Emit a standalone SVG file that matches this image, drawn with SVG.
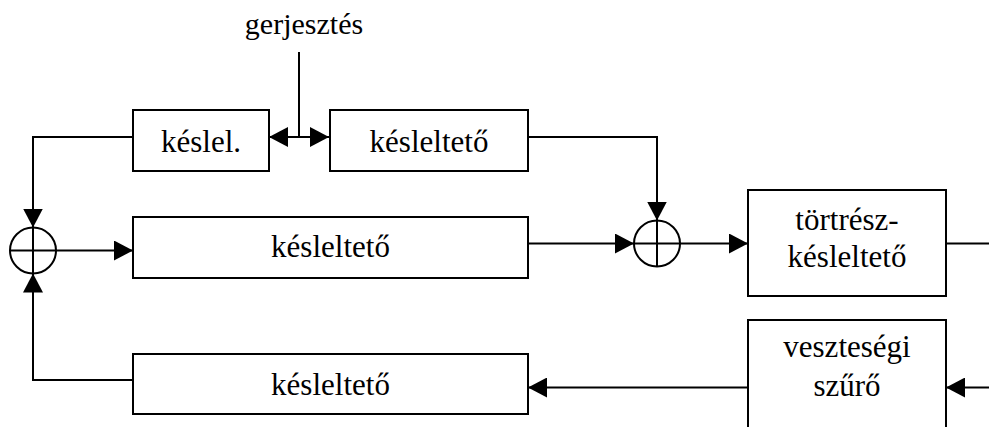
<svg xmlns="http://www.w3.org/2000/svg" width="989" height="427" viewBox="0 0 989 427">
<style>
.box{fill:#fff;stroke:#000;stroke-width:2}
.ln{fill:none;stroke:#000;stroke-width:2}
</style>
<defs>
<marker id="ah" markerUnits="userSpaceOnUse" markerWidth="20" markerHeight="20" refX="19" refY="10" orient="auto">
<path d="M0,0 L19,10 L0,20 z" fill="#000"/>
</marker>
</defs>
<rect width="989" height="427" fill="#fff"/>
<g id="connectors">
<path class="ln" d="M299,52 V137"/>
<path class="ln" d="M299,137 H269" marker-end="url(#ah)"/>
<path class="ln" d="M299,137 H329" marker-end="url(#ah)"/>
<path class="ln" d="M133,137 H33 V227.5" marker-end="url(#ah)"/>
<path class="ln" d="M56,250.5 H133" marker-end="url(#ah)"/>
<path class="ln" d="M528,243.5 H634" marker-end="url(#ah)"/>
<path class="ln" d="M528,137 H657 V220.5" marker-end="url(#ah)"/>
<path class="ln" d="M680,243.5 H748" marker-end="url(#ah)"/>
<path class="ln" d="M946,243.5 H989"/>
<path class="ln" d="M989,387.5 H946" marker-end="url(#ah)"/>
<path class="ln" d="M748,387.5 H528" marker-end="url(#ah)"/>
<path class="ln" d="M133,380 H33 V273.5" marker-end="url(#ah)"/>
</g>
<g font-family="Liberation Serif, Times New Roman, serif" font-size="31" text-anchor="middle" fill="#000">
<g id="gerjesztes"><text x="304" y="34" font-size="30">gerjesztés</text></g>
<g id="keslel"><rect class="box" x="133" y="110" width="136" height="61"/><text x="201" y="152">késlel.</text></g>
<g id="kesleltet-top"><rect class="box" x="330" y="110" width="198" height="61"/><text x="429" y="152">késleltető</text></g>
<g id="sum1"><circle class="ln" cx="33" cy="250.5" r="23"/><path class="ln" d="M10,250.5 H56 M33,227.5 V273.5"/></g>
<g id="kesleltet-mid"><rect class="box" x="133" y="217" width="395" height="61"/><text x="330.5" y="257">késleltető</text></g>
<g id="sum2"><circle class="ln" cx="657" cy="243.5" r="23"/><path class="ln" d="M634,243.5 H680 M657,220.5 V266.5"/></g>
<g id="tortresz"><rect class="box" x="748" y="190" width="198" height="106"/><text x="847" y="230">törtrész-</text><text x="847" y="267">késleltető</text></g>
<g id="veszt"><rect class="box" x="748" y="320" width="198" height="120"/><text x="847" y="357">veszteségi</text><text x="847" y="396">szűrő</text></g>
<g id="kesleltet-bot"><rect class="box" x="133" y="354" width="395" height="60"/><text x="330.5" y="395">késleltető</text></g>
</g>
</svg>
